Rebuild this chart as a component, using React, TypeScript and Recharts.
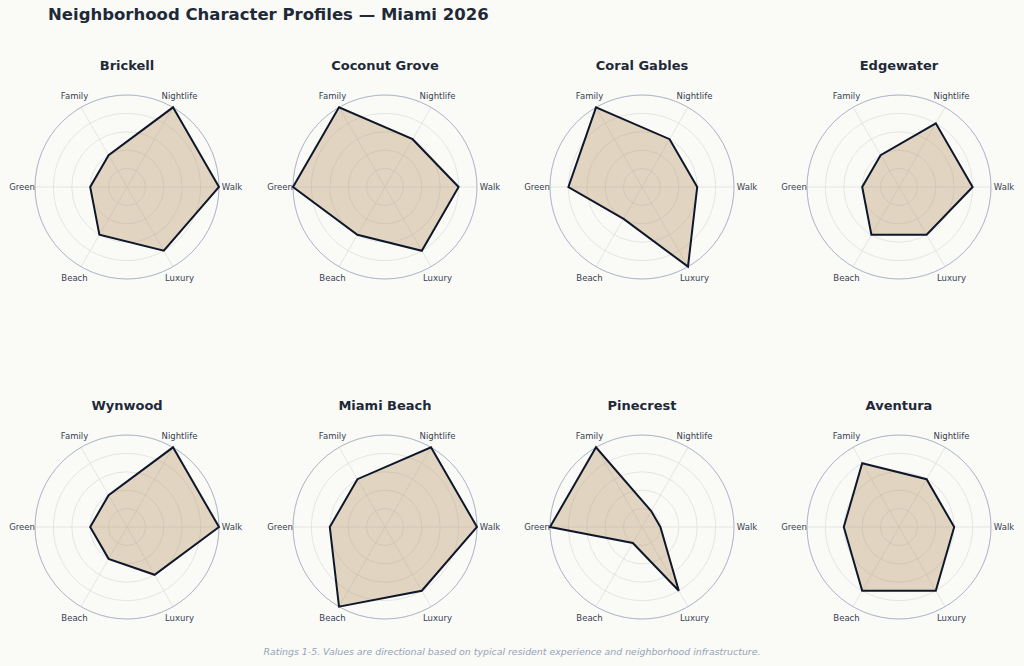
import React from "react";
import { PolarAngleAxis, PolarGrid, PolarRadiusAxis, Radar, RadarChart } from "recharts";

const AXES = ["Walk", "Nightlife", "Family", "Green", "Beach", "Luxury"];

const NEIGHBORHOODS = [
  "Brickell",
  "Coconut Grove",
  "Coral Gables",
  "Edgewater",
  "Wynwood",
  "Miami Beach",
  "Pinecrest",
  "Aventura",
];

// ratings in AXES order: Walk, Nightlife, Family, Green, Beach, Luxury
const BRICKELL = [5, 5, 2, 2, 3, 4];
const COCONUT_GROVE = [4, 3, 5, 5, 3, 4];
const CORAL_GABLES = [3, 3, 5, 4, 2, 5];
const EDGEWATER = [4, 4, 2, 2, 3, 3];
const WYNWOOD = [5, 5, 2, 2, 2, 3];
const MIAMI_BEACH = [5, 5, 3, 3, 5, 4];
const PINECREST = [1, 1, 5, 5, 1, 4];
const AVENTURA = [3, 3, 4, 3, 4, 4];

const RATINGS = [BRICKELL, COCONUT_GROVE, CORAL_GABLES, EDGEWATER, WYNWOOD, MIAMI_BEACH, PINECREST, AVENTURA];

const FONT = "'DejaVu Sans', Verdana, sans-serif";
const BG = "#fafaf7";
const INK = "#1f2937";

const W = 256;
const H = 260;
const CX = 128;
const CY = 130;
const R = 92;
const LABEL_R = 105;

const CENTERS_X = [127, 385, 642, 899];
const CENTERS_Y = [186.7, 526.7];

// recharts' tick payload runs two bands behind the polygon vertices here,
// so name each spoke from its own angle (the radar puts AXES[i] at 60 * i degrees)
function AngleLabel(props: any) {
  const dx = props.x - CX;
  const dy = props.y - CY;
  const len = Math.hypot(dx, dy) || 1;
  const deg = (Math.atan2(-dy, dx) * 180) / Math.PI;
  const step = 360 / AXES.length;
  const idx = ((Math.round(deg / step) % AXES.length) + AXES.length) % AXES.length;
  const x = CX + (dx / len) * LABEL_R;
  const y = CY + (dy / len) * LABEL_R;
  return (
    <text x={x} y={y} textAnchor="middle" dominantBaseline="central" fill="#374151" fontSize={8.5} fontFamily={FONT}>
      {AXES[idx]}
    </text>
  );
}

function Profile({ name, values, index }: { name: string; values: number[]; index: number }) {
  const data = AXES.map((axis, i) => ({ axis, value: values[i] }));
  const left = CENTERS_X[index % 4] - CX;
  const top = CENTERS_Y[Math.floor(index / 4)] - CY;
  return (
    <>
      <div
        style={{
          position: "absolute",
          left,
          top: top + 1,
          width: W,
          textAlign: "center",
          fontFamily: FONT,
          fontWeight: "bold",
          fontSize: 13,
          lineHeight: "16px",
          color: INK,
        }}
      >
        {name}
      </div>
      <div style={{ position: "absolute", left, top }}>
        <RadarChart width={W} height={H} data={data} cx={CX} cy={CY} outerRadius={R} startAngle={-60} endAngle={300}>
          <PolarGrid gridType="circle" stroke="#dedfe0" strokeWidth={0.8} />
          <PolarGrid gridType="circle" polarRadius={[R]} radialLines={false} stroke="#aab3c6" strokeWidth={0.9} />
          <PolarAngleAxis dataKey="axis" tick={(p: any) => <AngleLabel {...p} />} tickLine={false} axisLine={false} />
          <PolarRadiusAxis domain={[0, 5]} tickCount={6} tick={false} axisLine={false} />
          <Radar
            dataKey="value"
            stroke="#0f172a"
            strokeWidth={2}
            fill="#b8956a"
            fillOpacity={0.38}
            dot={false}
            isAnimationActive={false}
          />
        </RadarChart>
      </div>
    </>
  );
}

export default function App() {
  return (
    <div style={{ position: "absolute", left: 0, top: 0, width: 1024, height: 666, background: BG, overflow: "hidden" }}>
      <div
        style={{
          position: "absolute",
          left: 48,
          top: 4,
          fontFamily: FONT,
          fontWeight: "bold",
          fontSize: 16.5,
          lineHeight: "22px",
          color: INK,
          whiteSpace: "nowrap",
        }}
      >
        Neighborhood Character Profiles — Miami 2026
      </div>
      {NEIGHBORHOODS.map((name, i) => (
        <Profile key={name} name={name} values={RATINGS[i]} index={i} />
      ))}
      <div
        style={{
          position: "absolute",
          left: 0,
          top: 645,
          width: 1024,
          textAlign: "center",
          fontFamily: FONT,
          fontStyle: "italic",
          fontSize: 9.4,
          lineHeight: "14px",
          color: "#94a3b8",
        }}
      >
        Ratings 1-5. Values are directional based on typical resident experience and neighborhood infrastructure.
      </div>
    </div>
  );
}
